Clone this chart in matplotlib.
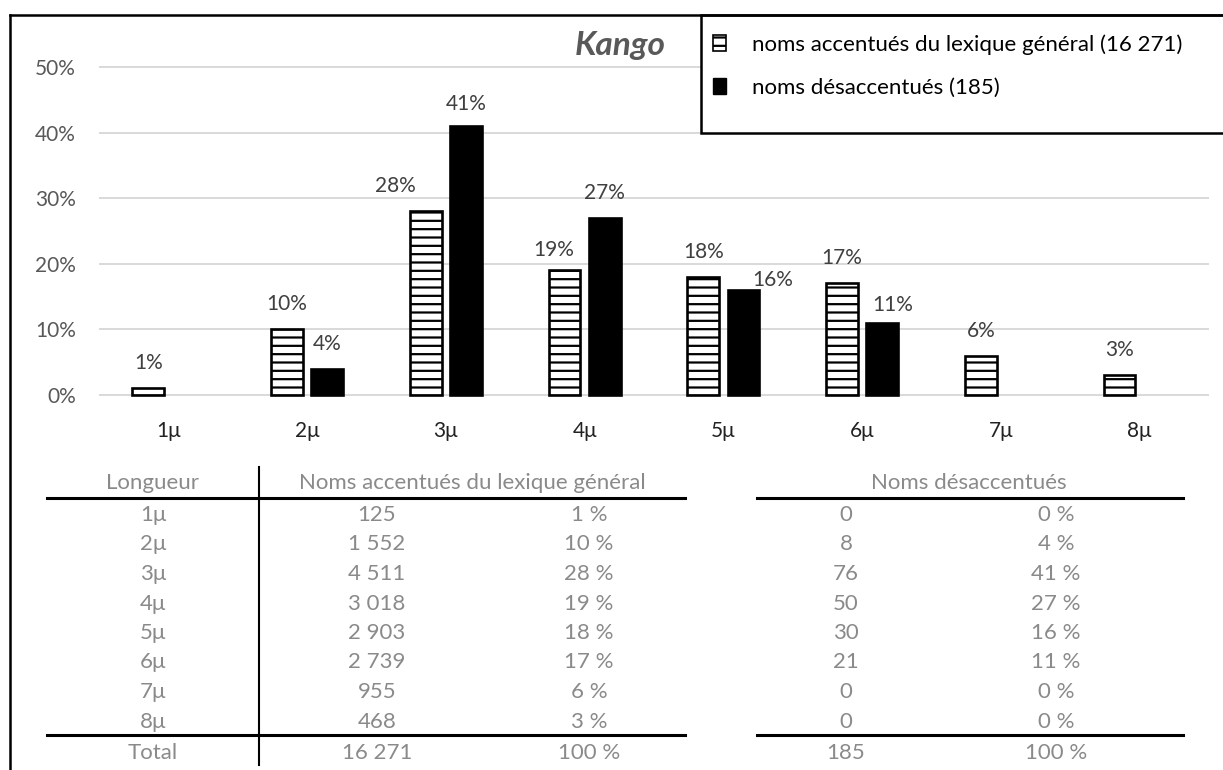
import matplotlib
matplotlib.use('Agg')
import matplotlib.pyplot as plt
import numpy as np
from matplotlib.patches import Rectangle, Patch
from matplotlib.ticker import PercentFormatter

plt.rcParams['font.family'] = ['Lato', 'DejaVu Sans']
plt.rcParams['hatch.linewidth'] = 1.6

# ---- data ----
lengths = ['1μ', '2μ', '3μ', '4μ', '5μ', '6μ', '7μ', '8μ']
pct_general = [1, 10, 28, 19, 18, 17, 6, 3]
pct_deacc = [0, 4, 41, 27, 16, 11, 0, 0]
count_general = [125, 1552, 4511, 3018, 2903, 2739, 955, 468]
count_deacc = [0, 8, 76, 50, 30, 21, 0, 0]
total_general = 16271
total_deacc = 185
legend_labels = ['noms accentués du lexique général (16 271)', 'noms désaccentués (185)']
title = 'Kango'
table_headers = ['Longueur', 'Noms accentués du lexique général', 'Noms désaccentués']

# ---- layout (pixels) ----
W, H = 1223, 770
fig = plt.figure(figsize=(W / 100, H / 100), dpi=100)

ax_l, ax_r, ax_t, ax_b = 99, 1209, 40, 400
y0_px, y50_px = 395, 67
ppu = (y0_px - y50_px) / 50.0
ax = fig.add_axes([ax_l / W, 1 - ax_b / H, (ax_r - ax_l) / W, (ax_b - ax_t) / H])
ax.set_zorder(0)

x = np.arange(len(lengths))
bw = 0.23
off = 0.145
gen = np.array(pct_general, dtype=float)
dea = np.array(pct_deacc, dtype=float)
dea_plot = np.where(dea > 0, dea, np.nan)

ax.bar(x - off, gen, bw, facecolor='white', edgecolor='black', hatch='--', linewidth=1.9, zorder=3)
ax.bar(x + off, dea_plot, bw, facecolor='black', edgecolor='black', linewidth=1.9, zorder=3)

# manual nudges of some data labels (px)
nudges = {(0, 2): (-30, 0), (0, 3): (-11, -5), (1, 4): (29, -15), (1, 5): (10, -7), (1, 2): (0, -3)}
for s, (vals, sign) in enumerate([(gen, -1), (dea, 1)]):
    for i, v in enumerate(vals):
        if v <= 0:
            continue
        dx, dy = nudges.get((s, i), (0, 0))
        ax.annotate(f'{int(v)}%', xy=(x[i] + sign * off, v), xytext=(dx * 0.72, (25 + dy) * 0.72),
                    textcoords='offset points', ha='center', va='center', fontsize=15, color='#404040')

ax.set_xlim(-0.5, len(lengths) - 0.5)
ax.set_ylim(-(ax_b - y0_px) / ppu, (y0_px - ax_t) / ppu)
ax.set_yticks(np.arange(0, 51, 10))
ax.yaxis.set_major_formatter(PercentFormatter(xmax=100, decimals=0))
ax.set_xticks(x)
ax.set_xticklabels(lengths)
ax.tick_params(axis='y', length=0, pad=16.5, labelsize=15, labelcolor='#595959')
ax.tick_params(axis='x', length=0, pad=15, labelsize=15, labelcolor='#222222')
ax.yaxis.grid(True, color='#d9d9d9', linewidth=1.4)
ax.set_axisbelow(True)
for sp in ax.spines.values():
    sp.set_visible(False)

# ---- overlay in pixel coordinates: frame, legend box, table ----
ov = fig.add_axes([0, 0, 1, 1])
ov.set_zorder(1)
ov.set_xlim(0, W)
ov.set_ylim(H, 0)
ov.axis('off')

ov.plot([10, 10], [15, H], color='black', lw=1.8)
ov.plot([10, W], [15, 15], color='black', lw=1.8)
ov.add_patch(Rectangle((701, 15), 600, 118, facecolor='white', edgecolor='black', lw=1.8))
ov.text(620, 45, title, ha='center', va='center', fontsize=24, fontweight='bold', fontstyle='italic', color='#595959')

handles = [Patch(facecolor='white', edgecolor='black', hatch='--', linewidth=1.2),
           Patch(facecolor='black', edgecolor='black')]
leg = fig.legend(handles, legend_labels, loc='upper left', bbox_to_anchor=(713 / W, 1 - 34 / H),
                 frameon=False, fontsize=16, handlelength=0.6, handleheight=0.7, handletextpad=1.15,
                 labelspacing=1.05, borderpad=0, borderaxespad=0)
leg.set_zorder(5)

tcol = '#8a8a8a'
tfs = 16
def fmt_n(n):
    return f'{n:,}'.replace(',', ' ')

def cell(xx, yy, s):
    ov.text(xx, yy, s, ha='center', va='center', fontsize=tfs, color=tcol)

col_len, col_gn, col_gp, col_hg = 153, 377, 589, 472
col_dn, col_dp, col_hd = 846, 1056, 969
y_head, y_row0, row_h = 483, 515, 29.5
cell(col_len, y_head, table_headers[0])
cell(col_hg, y_head, table_headers[1])
cell(col_hd, y_head, table_headers[2])
for i, lab in enumerate(lengths):
    yy = y_row0 + i * row_h
    cell(col_len, yy, lab)
    cell(col_gn, yy, fmt_n(count_general[i]))
    cell(col_gp, yy, f'{pct_general[i]} %')
    cell(col_dn, yy, fmt_n(count_deacc[i]))
    cell(col_dp, yy, f'{pct_deacc[i]} %')
y_tot = 753
cell(col_len, y_tot, 'Total')
cell(col_gn, y_tot, fmt_n(total_general))
cell(col_gp, y_tot, '100 %')
cell(col_dn, y_tot, fmt_n(total_deacc))
cell(col_dp, y_tot, '100 %')

for yy in (498, 735):
    ov.plot([47, 685], [yy, yy], color='black', lw=2.2)
    ov.plot([757, 1183], [yy, yy], color='black', lw=2.2)
ov.plot([259, 259], [467, 765], color='black', lw=1.5)

fig.savefig('out.png', dpi=100)
